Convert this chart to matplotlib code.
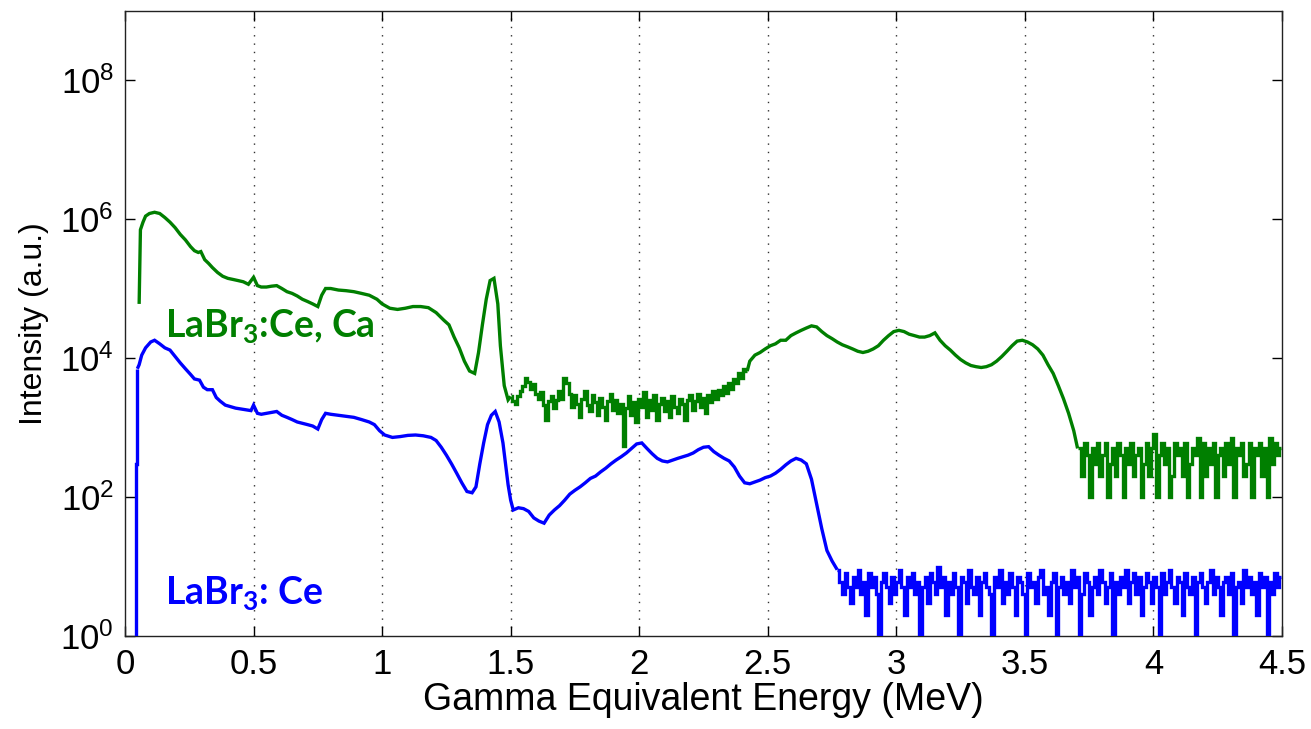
import numpy as np
import matplotlib
matplotlib.use("Agg")
import matplotlib.pyplot as plt

plt.rcParams['font.family'] = ['Liberation Sans', 'DejaVu Sans']
plt.rcParams['mathtext.default'] = 'regular'

# ---------------- data ----------------
# LaBr3:Ce, Ca (green) - smooth part up to 1.5 MeV
green_e_a = [0.055, 0.060, 0.070, 0.080, 0.095, 0.115, 0.135, 0.155, 0.175, 0.195,
             0.215, 0.235, 0.255, 0.270, 0.285, 0.295, 0.310, 0.325, 0.340, 0.360,
             0.380, 0.400, 0.420, 0.440, 0.460, 0.480, 0.500, 0.515, 0.530, 0.550,
             0.570, 0.590, 0.610, 0.630, 0.650, 0.670, 0.690, 0.710, 0.730, 0.750,
             0.765, 0.780, 0.800, 0.830, 0.860, 0.890, 0.920, 0.950, 0.980, 1.000,
             1.030, 1.060, 1.090, 1.120, 1.150, 1.180, 1.210, 1.240, 1.260, 1.280,
             1.300, 1.320, 1.340, 1.360, 1.375, 1.390, 1.405, 1.420, 1.435, 1.450,
             1.460, 1.475, 1.490, 1.500]
green_i_a = [6e4, 7e5, 9e5, 1.1e6, 1.2e6, 1.25e6, 1.2e6, 1.05e6, 9e5, 7.5e5,
             6e5, 5e5, 4e5, 3.5e5, 3.3e5, 3.4e5, 2.6e5, 2.3e5, 2e5, 1.7e5,
             1.5e5, 1.4e5, 1.35e5, 1.3e5, 1.25e5, 1.15e5, 1.45e5, 1.1e5, 1.05e5, 1.05e5,
             1.08e5, 1.1e5, 1.0e5, 9e4, 8.5e4, 7.8e4, 7e4, 6.5e4, 6e4, 5.5e4,
             8e4, 1.0e5, 1.0e5, 9.5e4, 9.3e4, 9e4, 8.5e4, 8e4, 7e4, 6e4,
             5.2e4, 5e4, 5.2e4, 5.5e4, 5.5e4, 5.3e4, 4.5e4, 3.5e4, 3e4, 2e4,
             1.4e4, 9e3, 6.5e3, 6e3, 1.2e4, 3e4, 7e4, 1.3e5, 1.4e5, 6e4,
             1.5e4, 4e3, 2.5e3, 2.8e3]
# green noisy plateau 1.51 - 2.42 MeV (bin 0.01 MeV)
green_noise1_start, green_noise1_step = 1.51, 0.01
green_noise1 = [2.4e3, 2.2e3, 2.8e3, 3.3e3, 4.0e3, 5.2e3, 4.5e3, 3.6e3, 4.2e3, 3.0e3,
                2.6e3, 3.2e3, 2.1e3, 1.3e3, 2.4e3, 2.8e3, 1.9e3, 2.5e3, 3.4e3, 2.6e3,
                5.2e3, 4.4e3, 3.0e3, 2.0e3, 2.9e3, 2.2e3, 1.4e3, 2.6e3, 3.3e3, 2.1e3,
                1.7e3, 2.9e3, 2.3e3, 1.5e3, 2.7e3, 2.0e3, 1.3e3, 2.4e3, 3.0e3, 1.8e3,
                2.5e3, 1.6e3, 2.2e3, 5.5e2, 1.9e3, 2.8e3, 1.5e3, 2.3e3, 1.2e3, 2.6e3,
                2.0e3, 3.2e3, 1.4e3, 2.5e3, 1.8e3, 2.9e3, 1.3e3, 2.2e3, 2.7e3, 1.7e3,
                2.4e3, 1.4e3, 2.8e3, 2.0e3, 1.6e3, 2.6e3, 2.2e3, 1.3e3, 2.5e3, 2.9e3,
                1.8e3, 2.4e3, 3.0e3, 2.0e3, 2.7e3, 1.6e3, 2.9e3, 2.3e3, 3.3e3, 2.6e3,
                3.5e3, 2.9e3, 3.9e3, 3.1e3, 4.3e3, 3.6e3, 5.0e3, 4.4e3, 6.0e3, 5.2e3,
                7.0e3, 6.5e3]
# green smooth part 2.43 - 3.705 MeV
green_e_b = [2.43, 2.45, 2.47, 2.49, 2.51, 2.53, 2.55, 2.57, 2.59, 2.61,
             2.63, 2.65, 2.67, 2.69, 2.71, 2.73, 2.75, 2.77, 2.79, 2.81,
             2.83, 2.85, 2.87, 2.89, 2.91, 2.93, 2.95, 2.97, 2.99, 3.01,
             3.03, 3.05, 3.07, 3.09, 3.11, 3.13, 3.15, 3.17, 3.19, 3.21,
             3.23, 3.25, 3.27, 3.29, 3.31, 3.33, 3.35, 3.37, 3.39, 3.41,
             3.43, 3.45, 3.47, 3.49, 3.51, 3.53, 3.55, 3.57, 3.59, 3.61,
             3.63, 3.65, 3.67, 3.69, 3.705]
green_i_b = [9e3, 1.1e4, 1.2e4, 1.35e4, 1.5e4, 1.6e4, 1.8e4, 1.8e4, 2.1e4, 2.3e4,
             2.5e4, 2.7e4, 2.9e4, 2.8e4, 2.4e4, 2.1e4, 1.9e4, 1.7e4, 1.55e4, 1.45e4,
             1.35e4, 1.25e4, 1.2e4, 1.25e4, 1.35e4, 1.5e4, 1.8e4, 2.1e4, 2.4e4, 2.5e4,
             2.4e4, 2.2e4, 2.1e4, 2.0e4, 2.0e4, 2.1e4, 2.3e4, 1.8e4, 1.5e4, 1.3e4,
             1.1e4, 9.5e3, 8.5e3, 7.8e3, 7.5e3, 7.3e3, 7.5e3, 8e3, 9e3, 1.05e4,
             1.25e4, 1.5e4, 1.75e4, 1.8e4, 1.7e4, 1.55e4, 1.35e4, 1.1e4, 8e3, 6e3,
             4e3, 2.6e3, 1.6e3, 900, 500]
# green background noise 3.715 - 4.5 MeV (bin 0.01 MeV)
green_noise2_start, green_noise2_step = 3.715, 0.01
green_noise2 = [500, 200, 600, 400, 100, 500, 300, 600, 200, 400,
                600, 100, 300, 500, 200, 600, 400, 100, 500, 300,
                600, 200, 400, 500, 100, 300, 600, 200, 500, 800,
                100, 400, 600, 300, 500, 100, 200, 600, 400, 500,
                200, 600, 100, 300, 500, 400, 700, 100, 600, 200,
                500, 300, 600, 100, 400, 500, 200, 600, 300, 700,
                100, 500, 400, 600, 200, 300, 600, 100, 500, 400,
                600, 200, 500, 100, 700, 300, 600, 400, 500]

# LaBr3: Ce (blue) - smooth part up to 1.51 MeV
blue_e_a = [0.040, 0.044, 0.048, 0.055, 0.065, 0.080, 0.100, 0.115, 0.135, 0.155,
            0.175, 0.195, 0.215, 0.235, 0.255, 0.270, 0.290, 0.305, 0.320, 0.340,
            0.355, 0.370, 0.390, 0.410, 0.430, 0.450, 0.470, 0.490, 0.500, 0.515,
            0.530, 0.550, 0.570, 0.590, 0.610, 0.630, 0.650, 0.670, 0.690, 0.710,
            0.730, 0.750, 0.765, 0.780, 0.800, 0.830, 0.860, 0.890, 0.920, 0.950,
            0.970, 0.990, 1.010, 1.040, 1.070, 1.100, 1.130, 1.160, 1.190, 1.210,
            1.230, 1.250, 1.270, 1.290, 1.310, 1.330, 1.350, 1.365, 1.380, 1.395,
            1.410, 1.425, 1.440, 1.455, 1.470, 1.480, 1.490, 1.500, 1.510]
blue_i_a = [0.3, 300, 7e3, 8e3, 1.1e4, 1.4e4, 1.7e4, 1.8e4, 1.6e4, 1.4e4,
            1.3e4, 1.05e4, 8.5e3, 7e3, 5.8e3, 5e3, 4.8e3, 3.8e3, 3.5e3, 3.5e3,
            2.7e3, 2.4e3, 2.1e3, 2e3, 1.9e3, 1.85e3, 1.8e3, 1.75e3, 2.1e3, 1.6e3,
            1.55e3, 1.6e3, 1.65e3, 1.7e3, 1.5e3, 1.4e3, 1.3e3, 1.2e3, 1.15e3, 1.1e3,
            1.05e3, 950, 1.3e3, 1.6e3, 1.55e3, 1.5e3, 1.45e3, 1.4e3, 1.3e3, 1.2e3,
            1.1e3, 900, 780, 720, 740, 770, 780, 760, 720, 650,
            520, 400, 300, 220, 160, 120, 115, 140, 300, 600,
            1.1e3, 1.5e3, 1.7e3, 1.2e3, 600, 300, 150, 90, 65]
# blue smooth part 1.53 - 2.77 MeV (bin 0.02 MeV)
blue_b_start, blue_b_step = 1.53, 0.02
blue_i_b = [70, 68, 62, 50, 45, 42, 55, 65, 75, 90,
            110, 125, 140, 160, 185, 200, 230, 260, 300, 340,
            380, 430, 500, 580, 600, 500, 420, 360, 330, 320,
            340, 360, 380, 400, 430, 480, 520, 530, 450, 400,
            360, 330, 270, 200, 160, 155, 165, 175, 190, 200,
            220, 250, 290, 330, 360, 340, 300, 180, 80, 35,
            17, 12, 9]
# blue background noise 2.785 - 4.5 MeV (bin 0.01 MeV)
blue_noise_start, blue_noise_step = 2.785, 0.01
blue_noise = [6, 4, 8, 5, 3, 7, 5, 9, 4, 6,
              2, 8, 5, 7, 4, 1, 6, 8, 5, 3,
              7, 4, 6, 9, 5, 2, 7, 5, 8, 4,
              6, 1, 5, 7, 3, 8, 6, 4, 10, 5,
              7, 2, 6, 4, 8, 5, 1, 7, 6, 3,
              9, 5, 4, 7, 2, 6, 8, 5, 4, 1,
              7, 5, 9, 3, 6, 4, 8, 5, 2, 7,
              6, 4, 1, 8, 5, 6, 3, 7, 9, 4,
              5, 2, 6, 8, 1, 5, 7, 4, 6, 3,
              9, 5, 7, 1, 4, 8, 6, 2, 5, 7,
              4, 9, 6, 3, 5, 8, 1, 6, 4, 7,
              5, 9, 3, 6, 8, 4, 7, 2, 5, 8,
              6, 3, 7, 5, 1, 8, 4, 6, 9, 5,
              3, 7, 6, 2, 8, 5, 4, 7, 1, 6,
              8, 5, 3, 6, 9, 4, 7, 5, 2, 6,
              7, 4, 8, 1, 5, 6, 3, 9, 5, 7,
              4, 6, 2, 8, 5, 7, 1, 6, 4, 8,
              5, 7]

x_ticks = [0, 0.5, 1, 1.5, 2, 2.5, 3, 3.5, 4, 4.5]
x_ticklabels = ['0', '0.5', '1', '1.5', '2', '2.5', '3', '3.5', '4', '4.5']
y_exponents = [0, 2, 4, 6, 8]
x_label = 'Gamma Equivalent Energy (MeV)'
y_label = 'Intensity (a.u.)'
label_green = 'LaBr$_3$:Ce, Ca'
label_blue = 'LaBr$_3$: Ce'


def grid_seg(start, step, vals):
    return list(start + step * np.arange(len(vals)))


# segments: smooth parts drawn as lines, noisy parts as histogram steps
g_n1_e = grid_seg(green_noise1_start, green_noise1_step, green_noise1)
g_n2_e = grid_seg(green_noise2_start, green_noise2_step, green_noise2)
b_b_e = grid_seg(blue_b_start, blue_b_step, blue_i_b)
b_n_e = grid_seg(blue_noise_start, blue_noise_step, blue_noise)

green_segments = [
    (green_e_a, green_i_a, 'default'),
    ([green_e_a[-1]] + g_n1_e, [green_i_a[-1]] + green_noise1, 'steps-mid'),
    ([g_n1_e[-1]] + green_e_b, [green_noise1[-1]] + green_i_b, 'default'),
    ([green_e_b[-1]] + g_n2_e, [green_i_b[-1]] + green_noise2, 'steps-mid'),
]
blue_segments = [
    (blue_e_a[:3], blue_i_a[:3], 'steps-mid'),
    (blue_e_a[2:] + b_b_e, blue_i_a[2:] + blue_i_b, 'default'),
    ([b_b_e[-1]] + b_n_e, [blue_i_b[-1]] + blue_noise, 'steps-mid'),
]

# ---------------- plot ----------------
fig = plt.figure(figsize=(13.11, 7.29), dpi=100)
ax = fig.add_axes([125 / 1311, 1 - 636 / 729, (1282 - 125) / 1311, (636 - 10.5) / 729])

GREEN = '#007f00'
BLUE = '#0000ff'
LW = 2.4
for e, v, ds in green_segments:
    ax.plot(e, v, color=GREEN, lw=LW, drawstyle=ds, zorder=3,
            solid_joinstyle='miter', solid_capstyle='butt')
for e, v, ds in blue_segments:
    ax.plot(e, v, color=BLUE, lw=LW, drawstyle=ds, zorder=3,
            solid_joinstyle='miter', solid_capstyle='butt')

ax.set_yscale('log')
ax.set_xlim(0, 4.5)
ax.set_ylim(1, 1e9)
ax.set_yticks([10.0 ** k for k in y_exponents])
ax.set_yticklabels(['$10^{%d}$' % k for k in y_exponents])
ax.yaxis.set_minor_locator(matplotlib.ticker.NullLocator())
ax.set_xticks(x_ticks)
ax.set_xticklabels(x_ticklabels)

for xt in x_ticks[1:-1]:
    ax.axvline(xt, color='#303030', lw=1.0, ls=(0, (1, 5)), zorder=1)

ax.tick_params(direction='in', length=7, width=1, top=True, right=True,
               colors='black', labelsize=25)
ax.tick_params(axis='x', pad=9)
ax.tick_params(axis='y', pad=8, labelsize=25)
for s in ax.spines.values():
    s.set_linewidth(1.0)
    s.set_color('#222222')

ax.set_xlabel(x_label, fontsize=27, labelpad=0)
ax.set_ylabel(y_label, fontsize=23, labelpad=8)

ax.text(0.0346, 0.478, label_green, transform=ax.transAxes, color=GREEN,
        fontsize=27, fontweight='bold', family='Lato', va='baseline', ha='left')
ax.text(0.0346, 0.051, label_blue, transform=ax.transAxes, color=BLUE,
        fontsize=27, fontweight='bold', family='Lato', va='baseline', ha='left')

fig.savefig('out.png', dpi=100)
